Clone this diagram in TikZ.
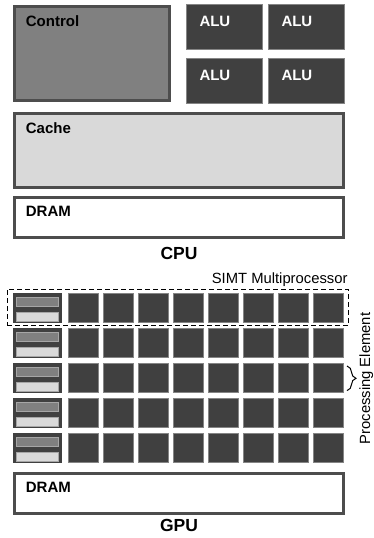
\documentclass[tikz,border=0pt]{standalone}
\usepackage{fontspec}
\setmainfont{Liberation Sans}
\usetikzlibrary{decorations.pathreplacing}
\definecolor{boxline}{HTML}{4D4D4D}
\definecolor{ctrlgray}{HTML}{808080}
\definecolor{aludark}{HTML}{404040}
\definecolor{cachegray}{HTML}{D9D9D9}
\definecolor{thinline}{HTML}{858585}
\tikzset{block/.style={rectangle,anchor=north west,inner sep=0pt,outer sep=0pt,line width=3pt,draw=boxline},
 ctrl/.style={block,fill=ctrlgray,minimum width=155pt,minimum height=94pt},
 alu/.style={block,line width=1pt,draw=thinline,fill=aludark,minimum width=76pt,minimum height=45pt},
 cache/.style={block,fill=cachegray,minimum width=329pt,minimum height=74pt},
 dram/.style={block,fill=white,minimum width=329pt,minimum height=40pt},
 smblock/.style={block,fill=aludark,draw=aludark,minimum width=45.4pt,minimum height=27pt},
 bar/.style={block,line width=1pt,draw=black!35,minimum width=41.7pt,minimum height=9pt},
 pe/.style={block,line width=1pt,draw=thinline,fill=aludark,minimum width=30pt,minimum height=29pt},
 smbox/.style={block,line width=1pt,draw=black,dash pattern=on 5pt off 3pt,minimum width=341pt,minimum height=36.7pt},
 brace/.style={decorate,decoration={brace,amplitude=9pt},line width=1pt},
 lbl/.style={anchor=base west,inner sep=0pt,font=\bfseries\fontsize{15}{17}\selectfont},
 title/.style={anchor=base,inner sep=0pt,font=\bfseries\fontsize{17.5}{20}\selectfont},
 note/.style={inner sep=0pt,font=\fontsize{14.8}{17}\selectfont}}

\begin{document}
\begin{tikzpicture}[x=1pt,y=-1pt]
 \useasboundingbox (0,0) rectangle (374,538);
 \node[ctrl] (ctrl) at (14.5,6) {};
 \node[lbl] (ctrl-t) at (25.7,26.7) {Control};
 \foreach \x/\y/\n in {186.5/4.5/1,268.5/4.5/2,186.5/58/3,268.5/58/4}{
  \node[alu] (alu\n) at (\x,\y) {};
  \node[lbl,text=white] (alu\n-t) at (\x+12.8,\y+22.2) {ALU};
 }
 \node[cache] (cache) at (14.5,113.5) {};
 \node[lbl] (cache-t) at (25.7,133.3) {Cache};
 \node[dram] (cdram) at (14.5,197.5) {};
 \node[lbl] (cdram-t) at (25.7,216.7) {DRAM};
 \node[title] (cpu) at (179,259.7) {CPU};

 \node[note,anchor=base east] (simt-t) at (347.7,283.3) {SIMT Multiprocessor};
 \foreach \r in {0,...,4}{
  \pgfmathsetmacro\y{293.3+35*\r}
  \node[smblock] (sm\r) at (14.8,\y+1.5) {};
  \node[bar,fill=ctrlgray] (sm\r-c) at (16.5,\y+4.5) {};
  \node[bar,fill=cachegray] (sm\r-m) at (16.5,\y+18.9) {};
  \foreach \c in {0,...,7}
   \node[pe] (pe\r-\c) at (68.5+35*\c,\y+0.5) {};
 }
 \node[smbox] (simt) at (7,289) {};
 \draw[brace] ([shift={(3.5pt,-2.2pt)}]pe2-7.north east) -- ([shift={(3.5pt,2.2pt)}]pe2-7.south east);
 \node[note,rotate=90] (pe-t) at (366.3,378.5) {Processing Element};
 \node[dram] (gdram) at (14.5,473.8) {};
 \node[lbl] (gdram-t) at (25.7,492.3) {DRAM};
 \node[title] (gpu) at (179,531) {GPU};
\end{tikzpicture}
\end{document}
